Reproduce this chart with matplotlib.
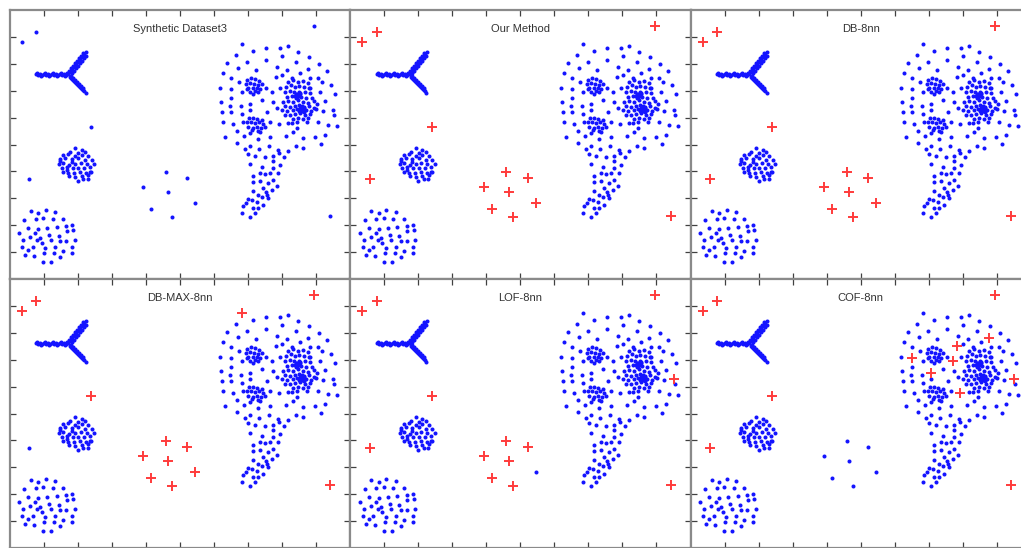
import numpy as np
import matplotlib
matplotlib.use("Agg")
import matplotlib.pyplot as plt

# ---------------- data ----------------
titles = ["Synthetic Dataset3", "Our Method", "DB-8nn",
          "DB-MAX-8nn", "LOF-8nn", "COF-8nn"]

# Y-shaped (star) cluster
star_x = [26, 28, 30, 32, 34, 36, 38, 40, 42, 44, 46, 48, 50, 52, 54, 56, 58,
          27, 31, 35, 39, 43, 47, 51, 55, 57,
          60, 62, 64, 66, 68, 70, 72, 74, 76,
          61.5, 63.5, 65.5, 67.5, 69.5, 71.5, 73.5, 75.5,
          59, 61, 63, 65, 67, 69, 71, 73,
          60, 62, 64, 66, 68, 70, 72, 74, 75.5,
          61, 63, 65, 67, 69, 71, 73,
          61, 63, 65, 67, 69, 71, 73]
star_y = [204, 203, 204.5, 203, 204, 203.5, 204.5, 203, 204, 203.5, 204.5, 203, 204, 203.5, 204.5, 203, 204,
          205.5, 202.5, 205.5, 202.5, 205.5, 202.5, 205.5, 202.5, 205.5,
          206, 208.5, 211, 213.5, 216, 218.5, 221, 223.5, 226,
          205, 207.5, 210, 212.5, 215, 217.5, 220, 222.5,
          207.5, 210, 212.5, 215, 217.5, 220, 222.5, 225,
          201, 199, 197, 195, 193, 191, 189, 187, 185.5,
          202.5, 200, 198, 196, 194, 192, 190,
          200, 198, 196, 194, 192, 190, 188]

# small round cluster
small_x = [65, 71.7, 60, 68.3, 75, 53.3, 58.3, 65, 71.7, 78.3, 50, 55, 61.7, 68.3, 75, 81.7,
           49.3, 53.3, 59.3, 65, 70.7, 76.7, 84, 51.7, 56.7, 62.7, 68.3, 74, 80, 53.3, 58.3,
           64, 70, 76, 81.3, 59.3, 65, 71.7, 78.3, 67.7, 73.3, 77.7, 56.7, 50, 80, 61.7]
small_y = [129.7, 128, 126.3, 125.3, 126.3, 123, 124, 122, 123, 122, 118.7, 119.7, 118.7, 119.7, 118, 118,
           114, 115.3, 113, 114, 114.7, 114, 114, 109.7, 111.3, 109.7, 109.7, 109.7, 110.7, 106.3, 104.7,
           105.3, 106.3, 105.3, 105.7, 102, 101.3, 102, 103, 97.3, 98.7, 98.7, 108, 117, 106, 116]

# bottom-left disk cluster
disk_x = [20.7, 28.3, 35.7, 45, 14, 25.7, 33.3, 42.7, 53.3, 9.3, 18.3, 28.3, 37.3, 46.7, 56, 62,
          13.3, 20, 30, 39.3, 48.7, 56.7, 63.3, 12, 22.7, 31.7, 40.7, 50, 56, 64.7, 15, 24, 34.3,
          44, 53.3, 62, 33.3, 41, 50, 35, 45, 27.3, 18.3, 62, 25]
disk_y = [67.3, 65.3, 68, 66, 58, 58.7, 59.7, 59, 59.3, 45.3, 49.7, 48.7, 50.3, 51.3, 52, 53,
          38, 40.7, 40.3, 43, 42, 46.7, 48, 31.3, 30.7, 34.7, 38, 36.7, 37.3, 38, 23, 22, 24.7,
          25.3, 27.3, 31.3, 16.3, 16, 21.3, 29.7, 31.3, 38, 28, 24.7, 44.7]

# big cluster: sparse ring part
ring_x = [243, 256, 270, 278, 288, 299, 226, 237, 256, 272, 286, 309, 217, 228, 246, 267, 277, 290,
          300, 308, 317, 213, 221, 229, 272, 282, 312, 321, 210, 232, 256, 270, 300, 310, 325, 211,
          221, 231, 252, 263, 315, 212, 220, 221, 232, 240, 257, 267, 275, 306, 313, 324, 213, 223,
          233, 260, 278, 287, 308, 318, 327]
ring_y = [227, 230, 230, 232, 226, 221, 223, 216, 218, 222, 216, 214, 215, 210, 208, 211, 208, 205,
          200, 200, 207, 205, 200, 196, 203, 200, 196, 193, 190, 186, 190, 190, 190, 186, 184, 176,
          180, 172, 178, 176, 177, 166, 172, 166, 164, 168, 166, 170, 163, 169, 167, 163, 156, 154,
          156, 156, 155, 150, 156, 153, 152]

# dense sub-clusters A, B, C inside the big cluster
subA_x = [237, 241, 245, 249, 236, 240, 244, 248, 252, 238, 243, 247, 250, 240, 245, 248, 243, 237]
subA_y = [198, 200, 199, 197, 194, 195, 194, 193, 194, 190, 190, 190, 189, 186, 187, 186, 184, 189]
subB_x = [239, 243, 247, 252, 237, 241, 245, 249, 253, 238, 243, 247, 251, 242, 248, 240, 250, 255]
subB_y = [160, 160, 159, 158, 156, 156, 155, 156, 154, 151, 150, 151, 150, 148, 147, 145, 146, 151]
subC_x = [278, 283, 288, 293, 298, 276, 281, 285, 289, 294, 299, 275, 280, 284, 287, 290, 295, 300,
          277, 282, 286, 291, 296, 302, 273, 278, 283, 288, 293, 298, 304, 285, 287, 289,
          275, 280, 285, 289, 294, 299, 304, 277, 283, 287, 292, 296, 301, 280, 285, 290, 295, 300,
          283, 288, 293, 298, 272, 307, 292, 294, 289, 287, 297, 282,
          286, 288, 290, 289, 291, 293, 292, 290, 294]
subC_y = [196, 198, 196, 197, 195, 191, 193, 191, 192, 191, 190, 186, 187, 186, 184, 185, 186, 185,
          181, 182, 180, 181, 180, 180, 176, 177, 176, 178, 176, 175, 177, 182, 181, 182,
          172, 171, 172, 173, 171, 172, 170, 167, 168, 169, 170, 168, 167, 163, 164, 165, 163, 164,
          159, 160, 159, 160, 168, 174, 167, 166, 167, 156, 156, 155,
          184, 183, 184, 186, 171, 169, 172, 170, 170]

# tail of the big cluster
tail_x = [215, 227, 234, 248, 260, 276, 283, 293, 305, 315, 311, 227, 240, 235, 238, 249, 259, 268,
          278, 286, 293, 245, 255, 263, 269, 274, 240, 252, 263, 270, 243, 243, 250, 255, 260, 263,
          268, 258, 263, 267, 243, 253, 248, 262, 238, 242, 247, 253, 233, 243, 232, 240, 245, 252,
          257, 250, 256, 258, 236, 248]
tail_y = [141, 147, 142, 139, 141, 142, 146, 140, 141, 143, 134, 135, 132, 129, 124, 129, 132, 128,
          127, 132, 130, 122, 121, 122, 125, 121, 114, 111, 117, 113, 102, 96, 97, 104, 105, 110,
          105, 95, 98, 92, 87, 90, 83, 88, 79, 78, 76, 73, 72, 70, 65, 61, 65, 81,
          83, 105, 86, 80, 75, 70]

# special points (possible outliers)
special_x = [11.7, 26, 304, 81, 19, 155.7, 177.3, 133.3, 158.3, 185, 141, 162.3, 320, 232, 323,
             266, 298, 221, 262, 240, 269]
special_y = [236.3, 246, 252, 151, 99, 106.3, 100.3, 90.7, 86, 75, 69.3, 61, 62, 234, 168,
             201, 209, 189, 186, 174, 154]

# which special points each method marks as outliers (1 = red '+')
flags_synthetic = [0, 0, 0, 0, 0, 0, 0, 0, 0, 0, 0, 0, 0, 0, 0, 0, 0, 0, 0, 0, 0]
flags_ours      = [1, 1, 1, 1, 1, 1, 1, 1, 1, 1, 1, 1, 1, 0, 0, 0, 0, 0, 0, 0, 0]
flags_db        = [1, 1, 1, 1, 1, 1, 1, 1, 1, 1, 1, 1, 1, 0, 0, 0, 0, 0, 0, 0, 0]
flags_dbmax     = [1, 1, 1, 1, 0, 1, 1, 1, 1, 1, 1, 1, 1, 1, 0, 0, 0, 0, 0, 0, 0]
flags_lof       = [1, 1, 1, 1, 1, 1, 1, 1, 1, 0, 1, 1, 1, 0, 1, 0, 0, 0, 0, 0, 0]
flags_cof       = [1, 1, 1, 1, 1, 0, 0, 0, 0, 0, 0, 0, 1, 0, 1, 1, 1, 1, 1, 1, 1]
all_flags = [flags_synthetic, flags_ours, flags_db, flags_dbmax, flags_lof, flags_cof]

# ---------------- figure ----------------
W, H = 1021, 548
fig = plt.figure(figsize=(W / 100, H / 100), dpi=100)
fig.patch.set_facecolor("white")

col_left = [9.5, 350, 690.5]
row_top = [10, 279]
pw, ph = 340.5, 269

base_x = np.concatenate([star_x, small_x, disk_x, ring_x, subA_x, subB_x, subC_x, tail_x])
base_y = np.concatenate([star_y, small_y, disk_y, ring_y, subA_y, subB_y, subC_y, tail_y])
sx = np.array(special_x)
sy = np.array(special_y)

blue = "#1414ff"
red = "#ff3b3b"

for i, (title, flags) in enumerate(zip(titles, all_flags)):
    r, c = divmod(i, 3)
    l = col_left[c] / W
    b = 1 - (row_top[r] + ph) / H
    ax = fig.add_axes([l, b, pw / W, ph / H])
    f = np.array(flags, dtype=bool)
    ax.plot(base_x, base_y, linestyle="none", marker="o", ms=2.9, mew=0, color=blue)
    ax.plot(sx[~f], sy[~f], linestyle="none", marker="o", ms=2.9, mew=0, color=blue)
    ax.plot(sx[f], sy[f], linestyle="none", marker="+", ms=7, mew=1.4, color=red)
    ax.set_xlim(-0.5, 340)
    ax.set_ylim(-1, 268)
    ax.set_xticks(np.arange(1, 10) * 34 - 0.5)
    ax.set_yticks(np.arange(1, 10) * 26.9 - 1)
    ax.tick_params(direction="in", length=4, width=0.9, color="#404040",
                   top=True, right=True, labelbottom=False, labelleft=False)
    for sp in ax.spines.values():
        sp.set_color("#8a8a8a")
        sp.set_linewidth(1.6)
    ax.text(0.5, 0.93, title, transform=ax.transAxes, ha="center", va="center",
            fontsize=8, family=["Liberation Sans", "DejaVu Sans"], color="#333333")

fig.savefig("out.png", dpi=100)
